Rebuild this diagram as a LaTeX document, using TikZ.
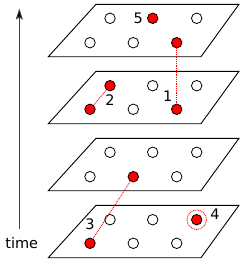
\documentclass[tikz,border=0pt]{standalone}
\usepackage{fontspec}
\setmainfont{DejaVu Sans}
\usetikzlibrary{arrows.meta}
\begin{document}
\begin{tikzpicture}[x=1pt,y=-1pt,
  plane/.style={draw=black,line width=0.9pt,line join=miter},
  wdot/.style={circle,draw=black,fill=white,line width=0.8pt,minimum size=10.5pt,inner sep=0pt},
  rdot/.style={circle,draw=black,fill=red,line width=0.8pt,minimum size=10.5pt,inner sep=0pt},
  link/.style={draw=red,dash pattern=on 1pt off 0.8pt,line width=0.8pt},
  lbl/.style={font=\fontsize{14.5}{16}\selectfont,inner sep=0pt}]
\useasboundingbox (0,0) rectangle (249,268);
% planes
\foreach \dy/\n in {0/a,67/b,134/c,201/d}{
  \draw[plane] (96,4.3+\dy) -- (239,4.3+\dy) -- (201,56.7+\dy) -- (48.3,56.7+\dy) -- cycle;
}
% plane 1
\node[wdot] (a1) at (110,18.3) {};
\node[rdot] (a2) at (152.7,18.3) {};
\node[wdot] (a3) at (196.7,18.3) {};
\node[wdot] (a4) at (90,42.7) {};
\node[wdot] (a5) at (133.3,42.7) {};
\node[rdot] (a6) at (176.7,42.7) {};
% plane 2
\node[rdot] (b1) at (110,85.7) {};
\node[wdot] (b2) at (152.7,85.7) {};
\node[wdot] (b3) at (196.7,85.7) {};
\node[rdot] (b4) at (90,109.3) {};
\node[wdot] (b5) at (133.3,109.3) {};
\node[rdot] (b6) at (176.7,109.3) {};
% plane 3
\node[wdot] (c1) at (110,152.3) {};
\node[wdot] (c2) at (152.7,152.3) {};
\node[wdot] (c3) at (196.7,152.3) {};
\node[wdot] (c4) at (90,176.7) {};
\node[rdot] (c5) at (133.3,176.7) {};
\node[wdot] (c6) at (176.7,176.7) {};
% plane 4
\node[wdot] (d1) at (110,219.7) {};
\node[wdot] (d2) at (152.7,219.7) {};
\node[rdot] (d3) at (196.7,219.7) {};
\node[rdot] (d4) at (90,243.3) {};
\node[wdot] (d5) at (133.3,243.3) {};
\node[wdot] (d6) at (176.7,243.3) {};
\node[circle,draw=red,dash pattern=on 1pt off 0.8pt,line width=0.8pt,minimum size=19.5pt,inner sep=0pt] (ring) at (d3) {};
% links
\draw[link] (a6) -- (b6);
\draw[link] (b4) -- (b1);
\draw[link] (c5) -- (d4);
% labels
\node[lbl] (l5) at (138.3,18.3) {5};
\node[lbl] (l1) at (167.7,96) {1};
\node[lbl] (l2) at (110,100) {2};
\node[lbl] (l3) at (90,224) {3};
\node[lbl] (l4) at (215,214.7) {4};
% time axis
\coordinate (t0) at (19.3,228.7);
\coordinate (t1) at (19.3,8.5);
\draw[line width=0.9pt,draw=black!75,-{Stealth[length=11pt,width=7pt,inset=2pt,fill=black]}] (t0) -- (t1);
\node[lbl] (time) at (21.7,243.3) {time};
\end{tikzpicture}
\end{document}
